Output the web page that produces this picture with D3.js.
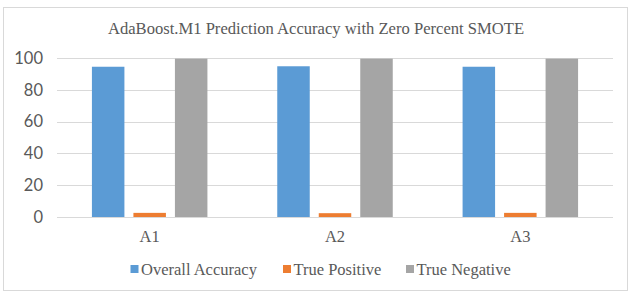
<!DOCTYPE html>
<html>
<head>
<meta charset="utf-8">
<script src="https://cdn.jsdelivr.net/npm/d3@7"></script>
<style>
html,body{margin:0;padding:0;background:#fff;}
svg{display:block;}
</style>
</head>
<body>
<svg id="chart" width="630" height="301"></svg>
<script>
const categories = ["A1", "A2", "A3"];
const seriesNames = ["Overall Accuracy", "True Positive", "True Negative"];
const overallAccuracy = [94.5, 94.8, 94.5];
const truePositive = [2.6, 2.4, 2.6];
const trueNegative = [99.6, 99.6, 99.6];
const yTicks = [0, 20, 40, 60, 80, 100];
const colors = ["#5b9bd5", "#ed7d31", "#a5a5a5"];
const title = "AdaBoost.M1 Prediction Accuracy with Zero Percent SMOTE";

const seriesValues = [overallAccuracy, truePositive, trueNegative];

(function () {
const svg = d3.select("#chart");
const serif = "'Liberation Serif','Times New Roman',serif";
const sans = "Lato,'Noto Sans',sans-serif";

// outer border
svg.append("rect").attr("x", 3.5).attr("y", 7.5).attr("width", 624).attr("height", 283)
  .attr("fill", "#fff").attr("stroke", "#d9d9d9").attr("stroke-width", 1);

const pLeft = 57, pRight = 613, pTop = 58, pBottom = 217;

const x0 = d3.scaleBand().domain(categories).range([pLeft, pRight]).padding(0);
const groupW = 124.5;
const x1 = d3.scaleBand().domain(seriesNames).range([0, groupW]).paddingInner(0.217).paddingOuter(0.1085);
const y = d3.scaleLinear().domain([0, 100]).range([pBottom, pTop]);

// gridlines
svg.append("g").selectAll("line").data(yTicks).join("line")
  .attr("x1", pLeft).attr("x2", pRight)
  .attr("y1", d => Math.round(y(d)) + 0.5).attr("y2", d => Math.round(y(d)) + 0.5)
  .attr("stroke", "#d9d9d9").attr("stroke-width", 1);

// y axis labels
const yAxis = d3.axisLeft(y).tickValues(yTicks).tickSize(0).tickPadding(0);
const ya = svg.append("g").attr("transform", `translate(43,0)`).call(yAxis);
ya.select(".domain").remove();
ya.selectAll("text").attr("font-family", sans).attr("font-size", 16.5).attr("fill", "#595959");

// bars
const groups = svg.append("g").selectAll("g").data(categories).join("g")
  .attr("transform", c => `translate(${x0(c) + x0.bandwidth() / 2 - groupW / 2},0)`);
groups.selectAll("rect").data((c, i) => seriesNames.map((s, j) => ({ s, j, v: seriesValues[j][i] })))
  .join("rect")
  .attr("x", d => x1(d.s))
  .attr("width", x1.bandwidth())
  .attr("y", d => y(d.v))
  .attr("height", d => y(0) - y(d.v))
  .attr("fill", d => colors[d.j]);

// x axis labels
const xAxis = d3.axisBottom(x0).tickSize(0).tickPadding(0);
const xa = svg.append("g").attr("transform", `translate(0,${pBottom + 13})`).call(xAxis);
xa.select(".domain").remove();
xa.selectAll("text").attr("font-family", serif).attr("font-size", 16.5).attr("fill", "#595959");

// title
svg.append("text").attr("x", 316).attr("y", 34).attr("text-anchor", "middle")
  .attr("font-family", serif).attr("font-size", 16.6).attr("fill", "#595959").text(title);

// legend
const legendX = [130.5, 283, 406];
const lg = svg.append("g").selectAll("g").data(seriesNames).join("g")
  .attr("transform", (d, i) => `translate(${legendX[i]},0)`);
lg.append("rect").attr("x", 0).attr("y", 265).attr("width", 8).attr("height", 8)
  .attr("fill", (d, i) => colors[i]);
lg.append("text").attr("x", 10.5).attr("y", 275).attr("font-family", serif).attr("font-size", 16.5)
  .attr("fill", "#595959").text(d => d);
})();
</script>
</body>
</html>
